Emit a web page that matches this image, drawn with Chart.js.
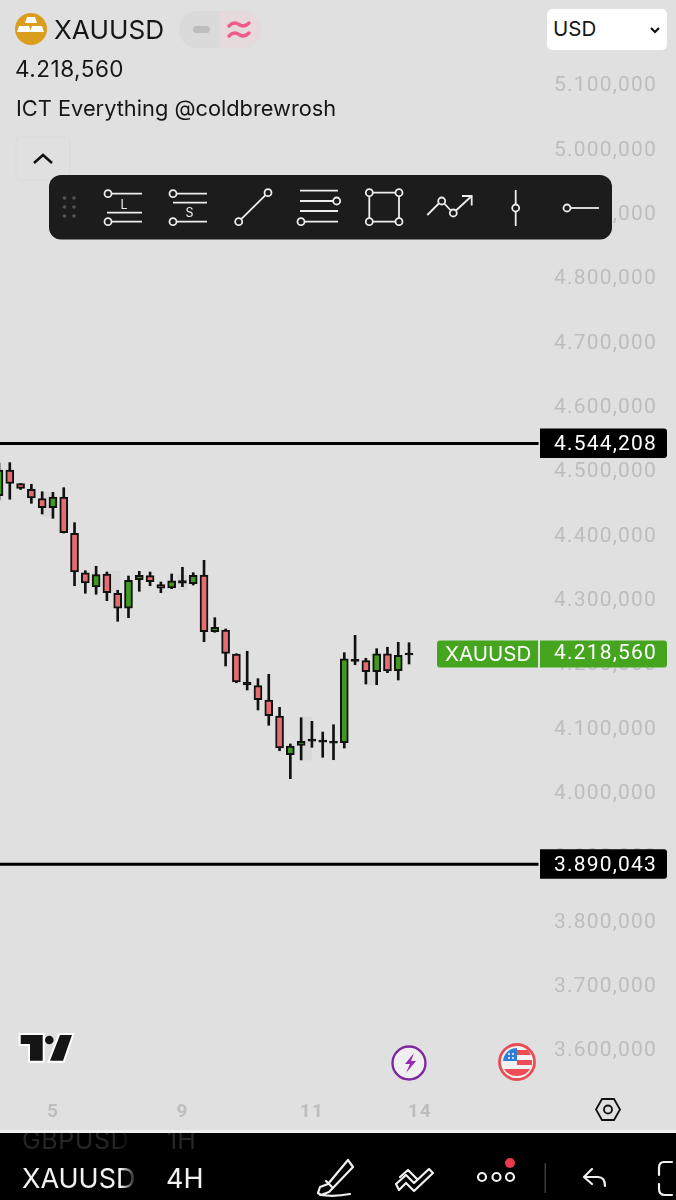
<!DOCTYPE html>
<html><head><meta charset="utf-8">
<script src="https://cdn.jsdelivr.net/npm/chart.js@4"></script>
<style>
html,body{margin:0;padding:0;background:#e0e0e0;width:676px;height:1200px;overflow:hidden;font-family:Inter,"Noto Sans",sans-serif}
#wrap{position:absolute;left:0;top:0;width:676px;height:1133px}
canvas{display:block}
.t{position:absolute;white-space:nowrap;line-height:1;color:#161616}
svg.o{position:absolute;left:0;top:0;pointer-events:none}
#bar{position:absolute;left:0;top:1133px;width:676px;height:67px;background:#000;overflow:hidden}
</style></head><body>
<div id="wrap"><canvas id="c" width="676" height="1133"></canvas></div>

<div class="t" style="left:54px;top:17px;font-size:26.200px">XAUUSD</div>
<div class="t" style="left:15px;top:58px;font-size:22.500px;letter-spacing:.5px">4.218,560</div>
<div class="t" style="left:16px;top:98px;font-size:21.800px">ICT Everything @coldbrewrosh</div>
<div style="position:absolute;left:547px;top:9px;width:120px;height:41px;background:#fff;border-radius:5px"></div>
<div class="t" style="left:553px;top:19px;font-size:20.500px">USD</div>

<svg class="o" width="676" height="1200" viewBox="0 0 676 1200">
  <!-- header -->
  <circle cx="31" cy="29" r="16" fill="#DB9D1E"/>
  <path d="M27 17h8l2 6H25zM19 26h10l2 6H17zM32 26h10l2 6H30z" fill="#fff"/>
  <rect x="179" y="11" width="82" height="37" rx="18" fill="#DADADA"/>
  <path d="M220 11h23a18 18 0 0 1 0 37h-23z" fill="#E5D9DC"/>
  <rect x="193" y="26" width="17" height="7" rx="3.500" fill="#BDBDBD"/>
  <path d="M229 26q5-5 10-1.500t10-1.500M229 36q5-5 10-1.500t10-1.500" fill="none" stroke="#EE5A8B" stroke-width="3.400" stroke-linecap="round"/>
  <rect x="16" y="137" width="54" height="43" rx="4" fill="none" stroke="#dadada"/>
  <path d="M34 163l9-8 9 8" fill="none" stroke="#111" stroke-width="2.600"/>
  <path d="M651 28l4 4 4-4" fill="none" stroke="#111" stroke-width="2.200"/>
  <!-- toolbar -->
  <rect x="49" y="175" width="563" height="64.500" rx="12" fill="#1C1C1C"/>
  <g fill="#555"><circle cx="64.500" cy="198" r="1.800"/><circle cx="74" cy="198" r="1.800"/><circle cx="64.500" cy="207" r="1.800"/><circle cx="74" cy="207" r="1.800"/><circle cx="64.500" cy="216" r="1.800"/><circle cx="74" cy="216" r="1.800"/></g>
  <g fill="none" stroke="#EDEDED" stroke-width="1.800">
    <circle cx="108" cy="193.700" r="3.500"/><path d="M112 193.700h30M107 212.700h35M112 221.700h30"/><circle cx="108" cy="221.700" r="3.500"/>
    <circle cx="173" cy="193.700" r="3.500"/><path d="M177 193.700h30M173 202.700h34M177 221.700h30"/><circle cx="173" cy="221.700" r="3.500"/>
    <circle cx="268" cy="192.700" r="3.500"/><circle cx="238.700" cy="221.700" r="3.500"/><path d="M241.200 219.200l24.300-24"/>
    <path d="M300 190.700h38M300 201h33M300 211h38M305 221.700h33"/><circle cx="336.700" cy="201" r="3.500"/><circle cx="301" cy="221.700" r="3.500"/>
    <path d="M372.800 192.700h22.700M372.800 221.700h22.700M369.300 196.200v22M399 196.200v22"/><circle cx="369.300" cy="192.700" r="3.500"/><circle cx="399" cy="192.700" r="3.500"/><circle cx="369.300" cy="221.700" r="3.500"/><circle cx="399" cy="221.700" r="3.500"/>
    <path d="M427.300 215l11.500-11.500M444.300 203.500l6.500 7M456 210.500l15.700-14.500M462 196h9.700v9.500"/><circle cx="441.700" cy="201" r="3.500"/><circle cx="453.300" cy="213" r="3.500"/>
    <path d="M515.700 190v14.500M515.700 211.500v14.500"/><circle cx="515.700" cy="208" r="3.500"/>
    <circle cx="567" cy="208" r="3.500"/><path d="M570.500 208h28.500"/>
  </g>
  <text x="124" y="209" fill="#EDEDED" font-size="12.500" text-anchor="middle" font-family="Inter">L</text>
  <text x="189.500" y="217" fill="#EDEDED" font-size="12.500" text-anchor="middle" font-family="Inter">S</text>
  <!-- TradingView mark -->
  <path d="M20.700 1035h22v25.700h-12.700v-16.700h-9.300zM60 1035h12l-9 25.700H50z" fill="#fff" stroke="#fff" stroke-width="4"/>
  <path d="M20.700 1035h22v25.700h-12.700v-16.700h-9.300zM60 1035h12l-9 25.700H50z" fill="#151515"/>
  <circle cx="49.300" cy="1040" r="4.300" fill="#151515"/>
  <!-- badges -->
  <circle cx="409" cy="1063" r="18" fill="#F3E6F6" />
  <circle cx="409" cy="1063" r="16.500" fill="#EFEFEF" stroke="#7B2A9C" stroke-width="2.400"/>
  <path d="M414 1053l-9 11h5l-4 9 10-12h-5l3-8z" fill="#9C27B0"/>
  <circle cx="517" cy="1062" r="17.500" fill="#f2f2f2" stroke="#E84C55" stroke-width="2.800"/>
  <path d="M503 1061a14 14 0 0 1 14-13v13z" fill="#2F7FD8"/>
  <path d="M517 1050h11l3 5h-14zM517 1060h15v5h-15zM504 1069h26q-4 7-13 7t-13-7z" fill="#EC4C55"/>
  <g fill="#fff"><circle cx="509" cy="1054" r="1"/><circle cx="513" cy="1054" r="1"/><circle cx="509" cy="1058" r="1"/><circle cx="513" cy="1058" r="1"/></g>
  <path d="M596 1109.500l6-10.500h12l6 10.500-6 10.500h-12z" fill="none" stroke="#111" stroke-width="1.800"/>
  <circle cx="608" cy="1109.500" r="4" fill="none" stroke="#111" stroke-width="1.800"/>
  <rect x="0" y="1130" width="676" height="3" fill="#f0f0f0"/>
</svg>

<div id="bar">
  <div class="t" style="left:22px;top:-5px;font-size:25px;color:#262626;letter-spacing:.6px;-webkit-mask-image:linear-gradient(90deg,#000 80%,transparent 100%);width:115px;overflow:hidden">GBPUSD</div>
  <div class="t" style="left:167px;top:-5px;font-size:25px;color:#262626">1H</div>
  <div class="t" style="left:22px;top:32px;font-size:27px;color:#F2F2F2;-webkit-mask-image:linear-gradient(90deg,#000 86%,transparent 100%);width:115px;overflow:hidden">XAUUSD</div>
  <div class="t" style="left:166px;top:32px;font-size:27px;color:#F2F2F2">4H</div>
</div>
<svg class="o" width="676" height="1200" viewBox="0 0 676 1200">
  <g fill="none" stroke="#F0F0F0" stroke-width="2.200" stroke-linecap="round" stroke-linejoin="round">
    <path d="M348 1160l-20 24-8 3-2 6 3 2 8-3 24-25-5-7zM326 1181l6 6M320 1195q15 2 30-1"/>
    <path d="M396 1184l10-9 8 8 15-14 4 4-19 18-8-8-7 7zM400 1177l8-7 9 9"/>
    <circle cx="482" cy="1177" r="4"/><circle cx="496.500" cy="1177" r="4"/><circle cx="510" cy="1177" r="4"/>
    <path d="M584 1177l8-8M584 1177l8 7M584 1177h14q7 0 7 9"/>
    <path d="M672 1162h-8q-5 0-5 6v7M659 1184v5q0 6 6 6h7"/>
  </g>
  <circle cx="510" cy="1163" r="5" fill="#E83A4A"/>
  <rect x="544.500" y="1163" width="1.500" height="30" fill="#3a3a3a"/>
</svg>

<script>
// Values: one entry per 4H candle, oldest first.
const opens  = [4463.2,4503.1,4481.8,4473.1,4458.5,4444.5,4461.1,4404.7,4343.4,4321.2,4341.4,4311.5,4288.1,4332.6,4338.8,4324.8,4319.7,4331.0,4326.3,4339.9,4251.7,4254.4,4217.1,4173.5,4167.8,4145.5,4120.7,4060.5,4075.1,4084.7,4083.1,4081.6,4079.2,4208.6,4206.7,4189.5,4217.5,4191.1,4215.5];
const highs  = [4514.0,4514.5,4482.1,4480.9,4469.3,4468.4,4475.6,4421.2,4346.6,4353.4,4344.5,4316.1,4338.3,4345.6,4344.5,4329.0,4341.4,4351.8,4343.4,4362.7,4273.5,4255.9,4217.5,4221.3,4178.7,4185.5,4134.2,4077.2,4118.0,4112.4,4095.8,4107.1,4219.1,4246.1,4210.4,4225.3,4227.5,4235.2,4234.6];
const lows   = [4456.6,4457.6,4472.8,4451.3,4434.7,4428.0,4405.1,4323.2,4311.5,4309.9,4299.9,4267.9,4273.5,4314.5,4323.2,4312.4,4318.6,4321.7,4324.3,4236.2,4250.8,4198.4,4172.4,4161.1,4130.0,4106.2,4066.7,4023.2,4052.3,4072.0,4056.5,4052.7,4070.9,4200.4,4170.4,4169.3,4188.0,4176.6,4201.5];
const closes = [4503.1,4482.4,4474.6,4459.6,4444.5,4461.1,4405.6,4344.5,4327.5,4340.4,4312.4,4288.1,4331.6,4339.4,4329.5,4319.2,4330.6,4327.0,4339.4,4251.7,4258.6,4218.1,4173.5,4168.9,4146.0,4121.1,4070.9,4074.0,4081.3,4081.6,4080.0,4078.5,4209.7,4205.5,4189.5,4217.5,4190.6,4215.0,4218.56];
// Faint grey blocks behind a few candles
const shadePositions = [4.54,10.75,16.96,28.5,34.6];
const shadeLows  = [4431.6,4311.9,4316.6,4052.3,4168.9];
const shadeHighs = [4468.9,4346.1,4339.9,4119.1,4189.1];
// Axis ticks
const yTickValues = [5100,5000,4900,4800,4700,4600,4500,4400,4300,4200,4100,4000,3900,3800,3700,3600];
const xTickPositions = [5,17,29,39];
const xTickLabels = ['5','9','11','14'];
// Horizontal levels and price tags
const levelValues = [4544.208,3890.043];
const lastPrice = 4218.56;
const symbolName = 'XAUUSD';

const UP='#3F9A1F', DOWN='#E56D72';
const fmt = v => { const s=v.toFixed(3); const [a,b]=s.split('.'); return a[0]+'.'+a.slice(1)+','+b; };
const idx = opens.map((_,i)=>i);
const XMIN=0.0927, XMAX=62.74;
const AXIS_FONT='Roboto, Inter, sans-serif';
const TAG_FONT='Roboto, Inter, sans-serif';

const letterSpacing = {
  id:'letterSpacing',
  beforeDraw(ch){ try{ ch.ctx.letterSpacing='1.2px'; }catch(e){} }
};

const priceTags = {
  id:'priceTags',
  afterDatasetsDraw(ch){
    const c=ch.ctx, y=ch.scales.y;
    c.save();
    c.textBaseline='middle';
    c.font='21px '+TAG_FONT;
    c.letterSpacing='1.2px';
    levelValues.forEach(v=>{
      const p=y.getPixelForValue(v);
      c.fillStyle='#000';
      c.beginPath();c.roundRect(540,p-15,127,29.5,[0,3,3,0]);c.fill();
      c.fillStyle='#fff';c.textAlign='right';
      c.fillText(fmt(v),657,p+1);
    });
    const p=y.getPixelForValue(lastPrice)+1;
    c.fillStyle='#45A51F';
    c.beginPath();c.roundRect(437,p-13.5,101,27,[3,0,0,3]);c.fill();
    c.beginPath();c.roundRect(540,p-13.5,127,27,[0,3,3,0]);c.fill();
    c.fillStyle='#fff';
    c.textAlign='right';c.fillText(fmt(lastPrice),657,p);
    c.letterSpacing='0px';
    c.font='20.5px Inter, sans-serif';
    c.textAlign='left';c.fillText(symbolName,445,p+1);
    c.restore();
  }
};

new Chart(document.getElementById('c'),{
  type:'bar',
  plugins:[letterSpacing,priceTags],
  data:{datasets:[
    {label:'shade',order:5,data:shadePositions.map((x,i)=>({x,y:[shadeLows[i],shadeHighs[i]]})),
     backgroundColor:'#D8D8D8',borderWidth:0,barThickness:10,grouped:false},
    {label:'wick',order:3,data:idx.map(i=>({x:i,y:[lows[i],highs[i]]})),
     backgroundColor:'#111',borderWidth:0,barThickness:2,grouped:false},
    {label:'body',order:2,data:idx.map(i=>({x:i,y:[Math.min(opens[i],closes[i]),Math.max(opens[i],closes[i])]})),
     backgroundColor:idx.map(i=>Math.abs(closes[i]-opens[i])<5?'#111':(closes[i]>=opens[i]?UP:DOWN)),borderColor:'#111',borderWidth:2,borderSkipped:false,barThickness:8,grouped:false},
    {type:'line',label:'level top',order:1,data:[{x:XMIN,y:levelValues[0]},{x:50.0,y:levelValues[0]}],borderColor:'#000',borderWidth:3,pointRadius:0},
    {type:'line',label:'level bottom',order:1,data:[{x:XMIN,y:levelValues[1]},{x:50.0,y:levelValues[1]}],borderColor:'#000',borderWidth:3,pointRadius:0}
  ]},
  options:{
    responsive:false,animation:false,devicePixelRatio:1,
    layout:{padding:0},
    plugins:{legend:{display:false},tooltip:{enabled:false},title:{display:false}},
    scales:{
      x:{type:'linear',offset:false,min:XMIN,max:XMAX,
        grid:{display:false,drawTicks:false},border:{display:false},
        afterBuildTicks(s){s.ticks=xTickPositions.map(value=>({value}));},
        afterFit(s){s.height=38;s.paddingLeft=0;s.paddingRight=0;s.paddingTop=0;s.paddingBottom=0;},
        ticks:{autoSkip:false,maxRotation:0,padding:6,color:'#BDBDBD',font:{size:19,weight:'700',family:AXIS_FONT},
          callback:v=>xTickLabels[xTickPositions.indexOf(v)]??''}},
      y:{type:'linear',position:'right',min:3531.5,max:5233.7,
        grid:{display:false,drawTicks:false},border:{display:false},
        afterBuildTicks(s){s.ticks=yTickValues.map(value=>({value}));},
        afterFit(s){s.width=0;s.paddingLeft=0;s.paddingRight=0;s.paddingTop=0;s.paddingBottom=0;},
        ticks:{mirror:true,padding:-19,color:'#BDBDBD',font:{size:21,family:AXIS_FONT},autoSkip:false,
          callback:v=>fmt(v)}}
    }
  }
});
</script>
</body></html>
